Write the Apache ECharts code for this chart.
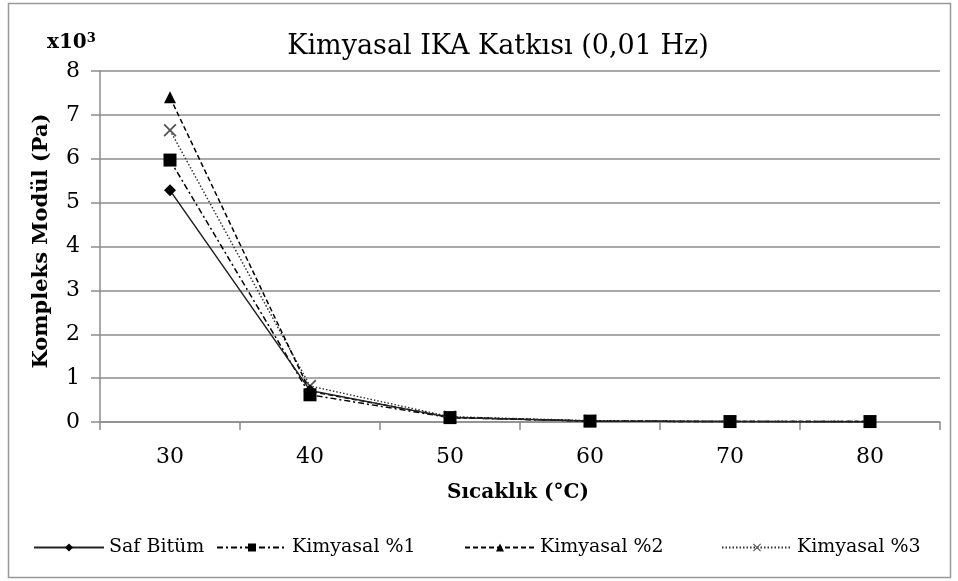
<!DOCTYPE html>
<html>
<head>
<meta charset="utf-8">
<script src="https://cdn.jsdelivr.net/npm/echarts@6/dist/echarts.min.js"></script>
<style>
  html, body { margin: 0; padding: 0; background: #fff; }
  #chart { width: 958px; height: 581px; }
</style>
</head>
<body>
<div id="chart"></div>
<script>
// Temperatures (°C) on the category axis
const temperatures = ['30', '40', '50', '60', '70', '80'];

// Complex modulus, in units of 10^3 Pa
const safBitum   = [5.28, 0.72, 0.10, 0.02, 0.01, 0.00];
const kimyasal1  = [5.97, 0.62, 0.10, 0.02, 0.01, 0.01];
const kimyasal2  = [7.40, 0.70, 0.11, 0.02, 0.01, 0.01];
const kimyasal3  = [6.65, 0.82, 0.12, 0.03, 0.01, 0.01];

const seriesNames = ['Saf Bitüm', 'Kimyasal %1', 'Kimyasal %2', 'Kimyasal %3'];

const serif = '"DejaVu Serif", "Liberation Serif", serif';
const crossSymbol = 'path://M0,1 L1,0 L5,4 L9,0 L10,1 L6,5 L10,9 L9,10 L5,6 L1,10 L0,9 L4,5 Z';

const chart = echarts.init(document.getElementById('chart'));

function legendAt(name, left) {
  return {
    data: [name],
    left: left,
    top: 533,
    itemWidth: 70,
    itemHeight: 10,
    itemGap: 6,
    textStyle: { fontFamily: serif, fontSize: 19, color: '#000' }
  };
}

chart.setOption({
  animation: false,
  backgroundColor: '#fff',
  title: {
    text: 'Kimyasal IKA Katkısı (0,01 Hz)',
    left: 493,
    textAlign: 'center',
    top: 28,
    textStyle: { fontFamily: serif, fontSize: 27, fontWeight: 'normal', color: '#000' }
  },
  legend: [
    legendAt(seriesNames[0], 28),
    legendAt(seriesNames[1], 211),
    legendAt(seriesNames[2], 459),
    legendAt(seriesNames[3], 716)
  ],
  grid: { left: 100, right: 18, top: 71, bottom: 159 },
  xAxis: {
    type: 'category',
    data: temperatures,
    boundaryGap: true,
    axisLine: { lineStyle: { color: '#8c8c8c', width: 1.5 } },
    axisTick: { show: true, length: 8, lineStyle: { color: '#8c8c8c', width: 1.5 } },
    axisLabel: { fontFamily: serif, fontSize: 22, color: '#000', margin: 24 }
  },
  yAxis: {
    type: 'value',
    min: 0,
    max: 8,
    interval: 1,
    axisLine: { show: true, lineStyle: { color: '#8c8c8c', width: 1.5 } },
    axisTick: { show: true, length: 9, lineStyle: { color: '#8c8c8c', width: 1.5 } },
    splitLine: { lineStyle: { color: '#8c8c8c', width: 1.5 } },
    axisLabel: { fontFamily: serif, fontSize: 22, color: '#000', margin: 20 }
  },
  graphic: [
    {
      type: 'rect',
      shape: { x: 8.5, y: 3.5, width: 942, height: 574 },
      style: { fill: 'none', stroke: '#999', lineWidth: 1.5 },
      z: -1
    },
    {
      type: 'text',
      left: 47,
      top: 32,
      style: {
        text: '{b|x10}{s|3}',
        rich: {
          b: { fontFamily: serif, fontSize: 20, fontWeight: 'bold', fill: '#000' },
          s: { fontFamily: serif, fontSize: 13, fontWeight: 'bold', fill: '#000', verticalAlign: 'top', padding: [0, 0, 8, 0] }
        }
      }
    },
    {
      type: 'text',
      x: 42,
      y: 241,
      rotation: Math.PI / 2,
      style: {
        text: 'Kompleks Modül (Pa)',
        fontFamily: serif,
        fontSize: 21,
        fontWeight: 'bold',
        fill: '#000',
        align: 'center',
        verticalAlign: 'middle'
      }
    },
    {
      type: 'text',
      x: 518,
      y: 493,
      style: {
        text: 'Sıcaklık (°C)',
        fontFamily: serif,
        fontSize: 20,
        fontWeight: 'bold',
        fill: '#000',
        align: 'center',
        verticalAlign: 'middle'
      }
    }
  ],
  series: [
    {
      name: seriesNames[0],
      type: 'line',
      data: safBitum,
      symbol: 'diamond',
      symbolSize: 12,
      itemStyle: { color: '#000' },
      lineStyle: { color: '#222', width: 1.5, type: 'solid' },
      z: 5
    },
    {
      name: seriesNames[1],
      type: 'line',
      data: kimyasal1,
      symbol: 'rect',
      symbolSize: 13,
      itemStyle: { color: '#000' },
      lineStyle: { color: '#000', width: 1.5, type: [6, 3, 2, 3] },
      z: 4
    },
    {
      name: seriesNames[2],
      type: 'line',
      data: kimyasal2,
      symbol: 'triangle',
      symbolSize: 12,
      itemStyle: { color: '#000' },
      lineStyle: { color: '#000', width: 1.5, type: [5, 3] },
      z: 3
    },
    {
      name: seriesNames[3],
      type: 'line',
      data: kimyasal3,
      symbol: crossSymbol,
      symbolSize: 13,
      itemStyle: { color: '#555' },
      lineStyle: { color: '#333', width: 1.5, type: [1.5, 2] },
      z: 2
    }
  ]
});
</script>
</body>
</html>
